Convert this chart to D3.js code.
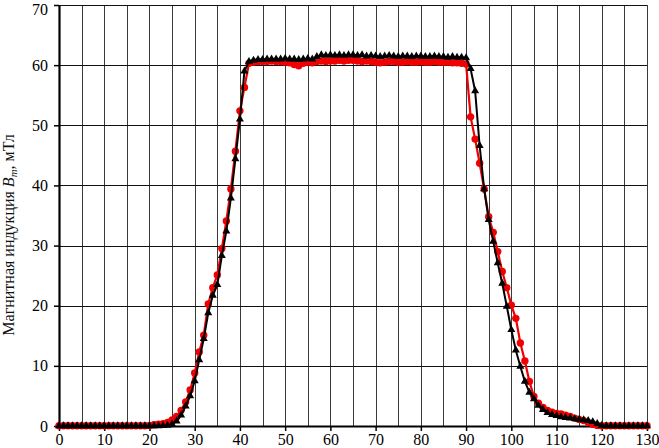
<!DOCTYPE html>
<html><head><meta charset="utf-8">
<script src="https://cdn.jsdelivr.net/npm/d3@7"></script>
<style>body{margin:0;background:#fff}svg{display:block}</style>
</head><body>
<svg id="c" width="659" height="448"></svg>
<script>
const xValues = [
0,1,2,3,4,5,6,7,8,9,
10,11,12,13,14,15,16,17,18,19,
20,21,22,23,24,25,26,27,28,29,
30,31,32,33,34,35,36,37,38,39,
40,41,42,43,44,45,46,47,48,49,
50,51,52,53,54,55,56,57,58,59,
60,61,62,63,64,65,66,67,68,69,
70,71,72,73,74,75,76,77,78,79,
80,81,82,83,84,85,86,87,88,89,
90,91,92,93,94,95,96,97,98,99,
100,101,102,103,104,105,106,107,108,109,
110,111,112,113,114,115,116,117,118,119,
120,121,122,123,124,125,126,127,128,129,
130];
const blackSeries = [
0,0,0,0,0,0,0,0,0,0,
0,0,0,0,0,0,0,0,0,0,
0,0,0,0.05,0.1,0.3,0.8,1.8,3.3,5.0,
7.5,11.0,14.5,18.8,21.7,23.5,28.3,32.4,37.9,44.4,
51.0,59.0,60.6,60.8,60.9,60.9,61.0,61.0,61.0,61.0,
61.1,61.0,61.0,60.9,61.0,61.1,61.0,61.4,61.7,61.6,
61.7,61.6,61.7,61.6,61.7,61.7,61.6,61.7,61.5,61.6,
61.5,61.4,61.5,61.6,61.5,61.4,61.5,61.5,61.4,61.5,
61.5,61.4,61.4,61.5,61.4,61.4,61.3,61.4,61.3,61.3,
61.2,59.4,55.7,46.6,39.4,34.3,30.7,27.1,23.7,19.9,
16.0,12.6,9.9,7.4,5.6,4.5,3.4,2.7,2.2,1.9,
1.7,1.5,1.4,1.3,1.2,1.1,1.0,0.9,0.7,0.4,
0.1,0,0,0,0,0,0,0,0,0,
0];
const redSeries = [
0.05,0.05,0.05,0.05,0.05,0.05,0.05,0.05,0.05,0.05,
0.05,0.05,0.05,0.05,0.05,0.05,0.05,0.05,0.05,0.05,
0.1,0.2,0.3,0.4,0.6,1.0,1.6,2.6,4.0,6.0,
8.8,12.3,15.1,20.3,23.0,25.1,29.5,34.1,39.4,45.7,
52.4,56.3,60.3,60.5,60.6,60.6,60.6,60.7,60.6,60.6,
60.5,60.4,60.1,59.9,60.3,60.5,60.4,60.6,60.7,60.6,
60.7,60.7,60.8,60.7,60.8,60.8,60.7,60.6,60.7,60.6,
60.5,60.4,60.5,60.6,60.6,60.5,60.5,60.6,60.5,60.5,
60.6,60.5,60.5,60.6,60.5,60.5,60.5,60.4,60.4,60.3,
60.2,51.4,47.7,43.7,39.4,34.8,32.2,29.0,25.7,23.0,
20.1,17.9,13.8,10.8,7.4,4.9,3.8,3.1,2.6,2.3,
2.1,2.0,1.8,1.6,1.3,1.1,0.9,0.6,0.3,0.1,
0.05,0.05,0.05,0.05,0.05,0.05,0.05,0.05,0.05,0.05,
0.05];
const xTicks = [0,10,20,30,40,50,60,70,80,90,100,110,120,130];
const xGrid = [5,10,15,20,25,30,35,40,45,50,55,60,65,70,75,80,85,90,95,100,105,110,115,120,125,130];
const yTicks = [0,10,20,30,40,50,60,70];
const yLabelText = "Магнитная индукция ";

const svg = d3.select("#c");
const L = 59, R = 647, T = 5, B = 426;
const x = d3.scaleLinear().domain([0,130]).range([L,R]);
const y = d3.scaleLinear().domain([0,70]).range([B,T]);
const font = "Liberation Serif";

// grid
svg.append("g").selectAll("line").data(xGrid).join("line")
  .attr("x1", d=>Math.round(x(d))+0.5).attr("x2", d=>Math.round(x(d))+0.5)
  .attr("y1", T).attr("y2", B).attr("stroke", "#3a3a3a").attr("stroke-width", 1);
svg.append("g").selectAll("line").data(yTicks.filter(d=>d>0)).join("line")
  .attr("x1", L).attr("x2", R)
  .attr("y1", d=>Math.round(y(d))+0.5).attr("y2", d=>Math.round(y(d))+0.5)
  .attr("stroke", "#111").attr("stroke-width", 1);

// axes
const xAxis = svg.append("g").attr("transform", `translate(0,${B})`)
  .call(d3.axisBottom(x).tickValues(xTicks).tickSize(5).tickSizeOuter(0).tickPadding(3));
const yAxis = svg.append("g").attr("transform", `translate(${L},0)`)
  .call(d3.axisLeft(y).tickValues(yTicks).tickSize(5).tickSizeOuter(0).tickPadding(6));
[xAxis, yAxis].forEach(a => {
  a.attr("font-family", null);
  a.select(".domain").attr("stroke", "#000").attr("stroke-width", 2.2);
  a.selectAll(".tick line").attr("stroke", "#000").attr("stroke-width", 1.5);
  a.selectAll("text").style("font-family", font).style("font-size", "16px").attr("fill", "#000");
});
// keep the top label inside the picture
yAxis.selectAll(".tick text").filter(d => d === 70).attr("dy", "0.62em");

// series
const pts = xValues.map((v,i)=>({x:v, r:redSeries[i], b:blackSeries[i]}));
const lineR = d3.line().x(d=>x(d.x)).y(d=>y(d.r));
const lineB = d3.line().x(d=>x(d.x)).y(d=>y(d.b));
svg.append("path").datum(pts).attr("d", lineR).attr("fill","none")
  .attr("stroke","#f00000").attr("stroke-width",2.2);
svg.append("g").selectAll("circle").data(pts).join("circle")
  .attr("cx", d=>x(d.x)).attr("cy", d=>y(d.r)).attr("r", 3.7).attr("fill", "#f00000");
svg.append("path").datum(pts).attr("d", lineB).attr("fill","none")
  .attr("stroke","#000").attr("stroke-width",2);
const tri = d3.symbol().type(d3.symbolTriangle).size(28);
svg.append("g").selectAll("path").data(pts).join("path")
  .attr("d", tri).attr("transform", d=>`translate(${x(d.x)},${y(d.b)})`).attr("fill", "#000");

// y label
const lab = svg.append("text").attr("transform", "translate(14,235) rotate(-90)")
  .attr("text-anchor","middle").style("font-family", font).style("font-size", "16px").attr("fill","#111");
lab.append("tspan").text(yLabelText);
lab.append("tspan").style("font-style","italic").text("B");
lab.append("tspan").style("font-style","italic").style("font-size","11px").attr("dy",3).text("m");
lab.append("tspan").attr("dy",-3).text(", мТл");
</script>
</body></html>
